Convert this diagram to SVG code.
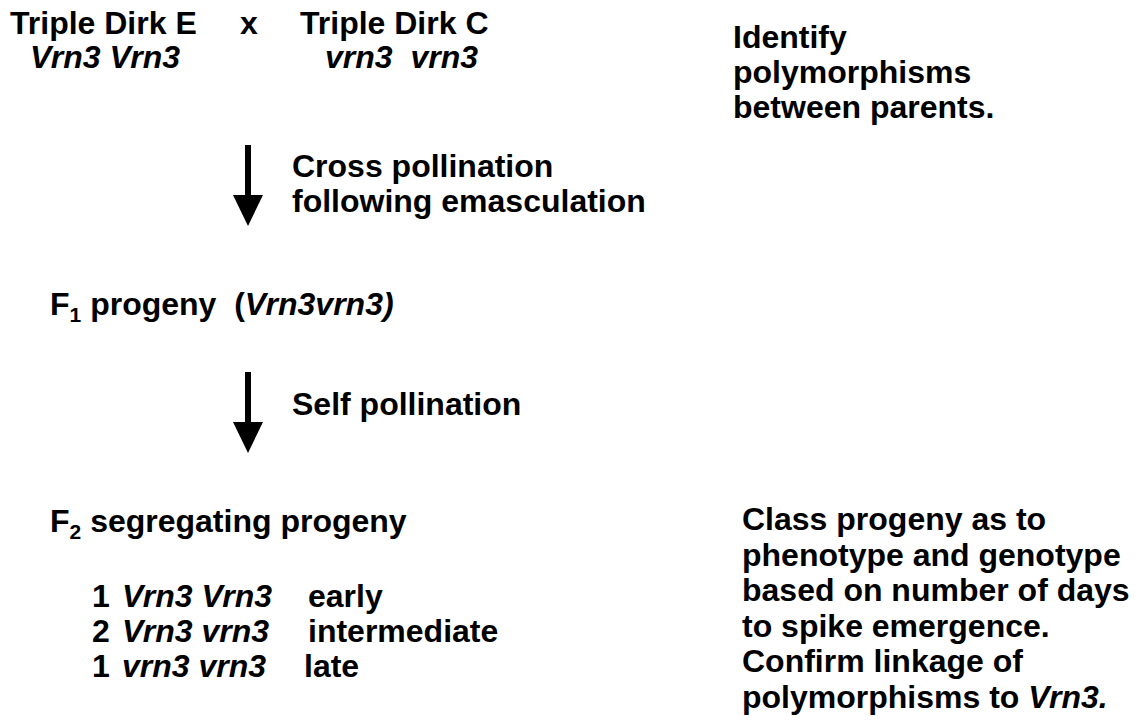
<svg xmlns="http://www.w3.org/2000/svg" width="1143" height="725" viewBox="0 0 1143 725">
<style>
text{font-family:"Liberation Sans",Arial,sans-serif;font-weight:bold;font-size:32px;fill:#000}
.i{font-style:italic}
.sub{font-size:21px}
</style>
<rect width="1143" height="725" fill="#fff"/>
<g id="connectors" fill="#000" stroke="none">
<rect x="245" y="145" width="6" height="55"/>
<polygon points="233,195 263,195 248,226"/>
<rect x="245" y="372" width="6" height="55"/>
<polygon points="233,422 263,422 248,453"/>
</g>
<g id="parentE">
<text x="10" y="34">Triple Dirk E</text>
<text x="30" y="68" class="i">Vrn3 Vrn3</text>
</g>
<g id="cross-x"><text x="240" y="34">x</text></g>
<g id="parentC">
<text x="300" y="34">Triple Dirk C</text>
<text x="325" y="68" class="i" xml:space="preserve">vrn3  vrn3</text>
</g>
<g id="note-top">
<text x="733" y="48">Identify</text>
<text x="733" y="83">polymorphisms</text>
<text x="733" y="118">between parents.</text>
</g>
<g id="label-cross">
<text x="292" y="177">Cross pollination</text>
<text x="292" y="212">following emasculation</text>
</g>
<g id="F1">
<text x="50" y="315" xml:space="preserve">F<tspan class="sub" dy="7">1</tspan><tspan dy="-7"> progeny  (</tspan><tspan class="i">Vrn3vrn3)</tspan></text>
</g>
<g id="label-self"><text x="292" y="415">Self pollination</text></g>
<g id="F2">
<text x="50" y="532">F<tspan class="sub" dy="7">2</tspan><tspan dy="-7"> segregating progeny</tspan></text>
<text x="92" y="607">1</text><text x="122" y="607" class="i">Vrn3 Vrn3</text><text x="308" y="607">early</text>
<text x="92" y="642">2</text><text x="122" y="642" class="i">Vrn3 vrn3</text><text x="308" y="642">intermediate</text>
<text x="92" y="677">1</text><text x="122" y="677" class="i">vrn3 vrn3</text><text x="304" y="677">late</text>
</g>
<g id="note-bottom">
<text x="742" y="530">Class progeny as to</text>
<text x="742" y="566">phenotype and genotype</text>
<text x="742" y="601">based on number of days</text>
<text x="742" y="637">to spike emergence.</text>
<text x="742" y="672">Confirm linkage of</text>
<text x="742" y="708">polymorphisms to <tspan class="i">Vrn3.</tspan></text>
</g>
</svg>
